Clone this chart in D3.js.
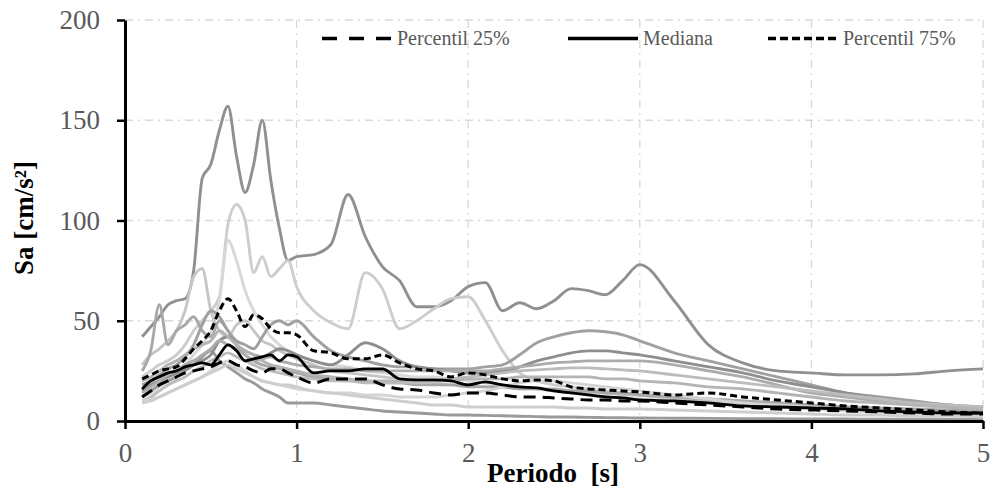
<!DOCTYPE html>
<html>
<head>
<meta charset="utf-8">
<script src="https://cdn.jsdelivr.net/npm/d3@7"></script>
<style>
  body { margin: 0; background: #fff; }
  text { font-family: "Liberation Serif", "Times New Roman", serif; }
</style>
</head>
<body>
<div class="chart"></div>
<script>
// periods [s]
const periods = [0.1,0.15,0.2,0.25,0.3,0.35,0.4,0.45,0.5,0.55,0.6,0.65,0.7,0.75,0.8,0.85,0.9,0.95,1.0,
  1.1,1.2,1.3,1.4,1.5,1.6,1.7,1.8,1.9,2.0,
  2.1,2.2,2.3,2.4,2.5,2.6,2.7,2.8,2.9,3.0,
  3.2,3.4,3.6,3.8,4.0,4.2,4.4,4.6,4.8,5.0];

// individual records, Sa [cm/s2]
const recA = [42,47,52,58,60,61,75,121,128,145,157,132,114,128,150,120,96,80,82,
  83,88,113,92,77,70,57,57,60,67,
  69,55,59,56,60,66,65,63,70,78,
  60,38,29,25,24,23,23,23.5,25,26];
const recB = [22,25,28,30,33,38,45,50,55,62,98,108,100,74,82,72,76,80,67,
  55,49,46,74,66,46,50,56,61,62,
  50,35,24,20,18,17,16,15,14,13,
  11,10,9,8,7,6.5,6,5.5,5,5];
const recC = [12,14,17,20,24,28,33,38,45,60,90,80,65,55,48,42,38,35,33,
  30,28,27,25,24,23,22,22,21,20,
  19,18,17,16,15,14,13,12,11.5,11,
  10,9,8,7,6,5,4.5,4,3.5,3];
const recD = [28,33,36,40,45,55,72,76,55,45,42,48,50,45,40,38,35,33,31,
  28,25,24,23,22,21,20,19,18,18,
  17,17,16,16,15,15,14,14,13,13,
  12,11,10,9,8,7,6,5.5,5,4.5];
const recE = [25,35,58,38,45,48,52,45,42,50,45,38,33,30,28,27,26,25,24,
  22,21,20,20,19,19,18,18,18,17,
  17,17,16,16,16,15,15,14,14,13,
  12,11,10,9,8,7,6.5,6,5.5,5];
const recF = [12,15,18,20,22,25,28,32,35,30,27,24,21,19,16,14,12,9,9,
  9,8,7,6,5,4.5,4,3.5,3,3,
  2.8,2.6,2.4,2.2,2,2,1.8,1.7,1.6,1.5,
  1.4,1.3,1.2,1.1,1,1,0.9,0.9,0.8,0.8];
const recG = [18,20,23,26,28,32,38,48,55,52,45,40,38,36,42,48,50,48,50,
  42,35,32,30,28,27,27,26,26,26,
  27,28,33,39,42,44,45,44.5,43,40,
  34,30,26,22,18,14,12,10,8,7];
const recH = [15,18,20,22,24,26,28,30,33,40,42,38,35,33,32,34,36,35,33,
  30,28,33,39,36,30,27,26,25,24,
  24,25,27,30,32,34,35,35,34,33,
  30,27,24,20,17,14,11,9,8,6];
const recI = [14,17,20,23,25,28,30,33,36,40,38,36,33,30,31,32,30,29,28,
  27,26,26,25,25,25,25,25,25,25,
  25,26,27,28,29,29.5,30,30,30,30,
  28,25,22,18,14,12,10,8,7,6];
const recJ = [10,12,15,18,20,22,25,27,30,32,34,32,30,28,26,25,24,23,22,
  21,20,20,19,19,19,19,20,21,22,
  23,24,25,25.5,26,26.5,26.5,26,25.5,25,
  23,21,19,17,15,13,11,9,8,7];
const recK = [10,11,12,14,16,18,20,22,25,28,30,28,25,22,20,19,18,17,16,
  15,14,14,13,13,12,12,12,13,14,
  15,17,19,20,20,19,18,17,16,15,
  13,11,9,8,7,6,5,4.5,4,3.5];
const recL = [9,10,12,14,16,18,20,22,24,26,28,26,24,22,20,19,18,18,17,
  15,14,13,12,11,10,9,8,8,7,
  7,7,7,7,7,6.5,6.5,6,6,6,
  5.5,5,4.5,4,3.5,3,3,2.5,2.5,2];
const recM = [20,22,25,28,30,33,36,38,40,45,42,38,35,33,30,28,27,26,25,
  23,22,21,20,20,20,20,20,20,21,
  21,21,22,22,22,22,22,21,21,20,
  19,17,16,14,12,10,9,8,7,6];

// statistics
const p25 = [12,15,18,20,22,24,25,26,27,29,30,28,27,25,24,26,26,24,22,
  19,21,21,21,18,16,15.5,14,13,14,
  14,13,12,12,11.5,11,10.5,10.5,10,10,
  9,8,7,6,5.5,5,4.5,4,3.5,3.5];
const median = [16,20,22,24,25,27,28,29,28,33,38,35,30,31,32,33,30,33,32,
  24,25,25,26,26,21,20.5,20.5,20,18,
  19.5,18,17,16.5,15,14,13,12,11.5,10.5,
  10,9,7.5,7,6.5,6,5,4.5,4,4];
const p75 = [21,23,25,26,27,31,36,40,45,55,61,55,47,53,51,46,44,44,43,
  35,34,31,31,33,29,26,25,22,24,
  23,21,20,20.5,20,17,16,15.5,15,14.5,
  13,14,12,10.5,9,7.5,6.5,5.5,4.5,4];

const xTicks = [0,1,2,3,4,5];
const yTicks = [0,50,100,150,200];
const legendLabels = ['Percentil 25%', 'Mediana', 'Percentil 75%'];

const records = [recA, recB, recC, recD, recE, recF, recG, recH, recI, recJ, recK, recL, recM];
const greys = ['#909090','#cdcdcd','#d8d8d8','#c6c6c6','#a8a8a8','#9a9a9a','#a0a0a0','#8e8e8e','#acacac','#bcbcbc','#d4d4d4','#cecece','#b4b4b4'];

let margin = {top: 20, right: 10, bottom: 71, left: 125};
let W = 993, H = 492;
let w = 983 - margin.left;
let h = H - margin.top - margin.bottom;

let svg = d3.select('.chart').append('svg')
  .attr('width', W)
  .attr('height', H)
  .append('g')
  .attr('transform', `translate(${margin.left},${margin.top})`);

let x = d3.scaleLinear().domain([0, 5]).range([0, w]);
let y = d3.scaleLinear().domain([0, 200]).range([h, 0]);

// grid, dash-dot
const gridStyle = g => g.attr('stroke', '#d9d9d9').attr('stroke-width', 1.3).attr('stroke-dasharray', '8,5,2,5');
svg.selectAll('.gy').data(yTicks.filter(d => d > 0)).enter().append('line')
  .attr('x1', 0).attr('x2', w).attr('y1', d => y(d)).attr('y2', d => y(d)).call(gridStyle);
svg.selectAll('.gx').data(xTicks.filter(d => d > 0)).enter().append('line')
  .attr('x1', d => x(d)).attr('x2', d => x(d)).attr('y1', 0).attr('y2', h).call(gridStyle);

let line = d3.line()
  .x((d, i) => x(periods[i]))
  .y(d => y(d))
  .curve(d3.curveMonotoneX);

svg.selectAll('.rec').data(records).enter().append('path')
  .attr('d', line)
  .attr('fill', 'none')
  .attr('stroke', (d, i) => greys[i])
  .attr('stroke-width', 2.9)
  .attr('stroke-linejoin', 'round');

const stats = [
  {values: p25, dash: '12,7'},
  {values: median, dash: null},
  {values: p75, dash: '7,4'}
];

svg.selectAll('.stat').data(stats).enter().append('path')
  .attr('d', d => line(d.values))
  .attr('fill', 'none')
  .attr('stroke', '#000')
  .attr('stroke-width', d => d.dash ? 3 : 2.8)
  .attr('stroke-dasharray', d => d.dash);

// axes
let xAxis = svg.append('g')
  .attr('transform', `translate(0,${h})`)
  .call(d3.axisBottom(x).tickValues(xTicks).tickFormat(d3.format('d')).tickSize(8).tickSizeOuter(0).tickPadding(14));
let yAxis = svg.append('g')
  .call(d3.axisLeft(y).tickValues(yTicks).tickSize(8).tickSizeOuter(0).tickPadding(17));

[xAxis, yAxis].forEach(a => {
  a.select('.domain').attr('stroke', '#000').attr('stroke-width', 3);
  a.selectAll('.tick line').attr('stroke', '#000').attr('stroke-width', 2.5);
  a.selectAll('.tick text').attr('fill', '#595959').style('font-size', '27px')
    .style('font-family', '"Liberation Serif", "Times New Roman", serif');
});

// titles
svg.append('text')
  .attr('x', 553 - margin.left).attr('y', 482 - margin.top)
  .attr('text-anchor', 'middle')
  .style('font-size', '27px').style('font-weight', 'bold')
  .text('Periodo  [s]').attr('xml:space', 'preserve');

svg.append('text')
  .attr('transform', `translate(${33 - margin.left},${218 - margin.top}) rotate(-90)`)
  .attr('text-anchor', 'middle')
  .style('font-size', '27px').style('font-weight', 'bold')
  .text('Sa [cm/s²]');

// legend
const legendX = [322, 568, 768];
const legendDash = ['15,12', null, '8,4'];
let lg = svg.append('g').attr('transform', `translate(${-margin.left},${-margin.top})`);
legendLabels.forEach((t, i) => {
  lg.append('line')
    .attr('x1', legendX[i]).attr('x2', legendX[i] + 70)
    .attr('y1', 38.5).attr('y2', 38.5)
    .attr('stroke', '#000').attr('stroke-width', 3.5)
    .attr('stroke-dasharray', legendDash[i]);
  lg.append('text')
    .attr('x', legendX[i] + 75).attr('y', 45)
    .attr('fill', '#595959')
    .style('font-size', '20px')
    .text(t);
});
</script>
</body>
</html>
